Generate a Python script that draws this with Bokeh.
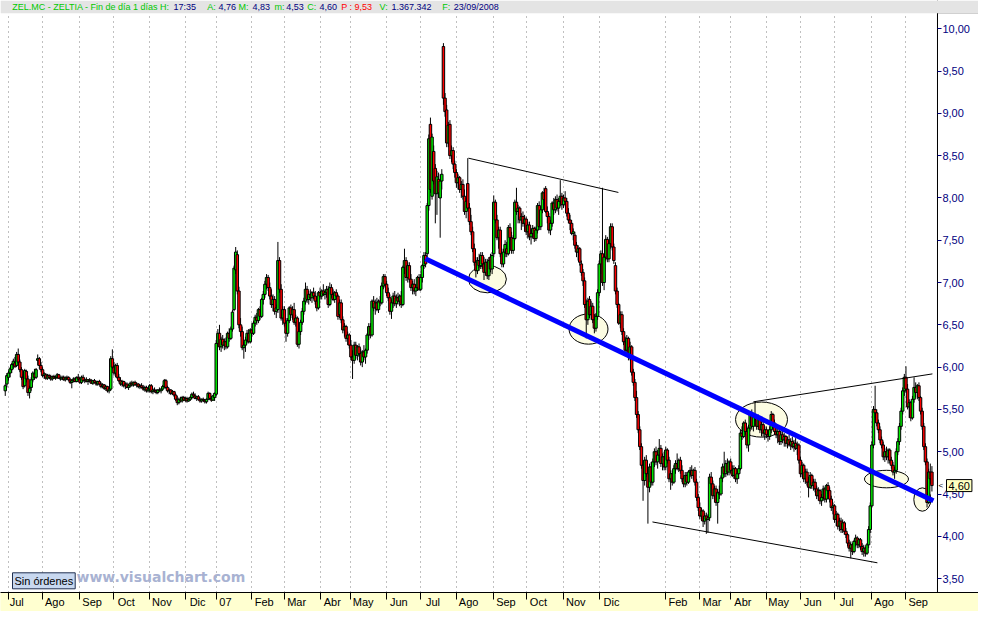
import pandas as pd
from bokeh.plotting import figure
from bokeh.models import (Range1d, LinearAxis, FixedTicker, Grid, Label, ColumnDataSource,
                          BoxAnnotation)
from bokeh.embed import file_html
from bokeh.resources import INLINE

# ---------------- data: daily candles (open, high, low, close) per month ----------------
jun06 = [(5.72,5.80,5.66,5.78),(5.80,5.93,5.76,5.90)]
jul06 = [(5.88,5.96,5.84,5.93),(5.93,6.00,5.88,5.98),(5.97,6.05,5.93,6.03),(6.03,6.10,5.98,6.07),
         (6.05,6.12,5.99,6.01),(6.02,6.18,6.00,6.15),(6.15,6.22,6.02,6.06),(6.06,6.09,5.94,5.97),
         (5.97,6.00,5.85,5.88),(5.88,5.92,5.74,5.77),(5.78,5.98,5.76,5.96),(5.95,5.97,5.82,5.86),
         (5.86,5.90,5.66,5.70),(5.70,5.78,5.63,5.75),(5.76,5.88,5.72,5.85),(5.85,5.95,5.82,5.93),
         (5.92,5.98,5.85,5.88),(5.88,5.99,5.86,5.97),(6.08,6.15,6.02,6.10),(6.10,6.12,5.98,6.02),
         (6.02,6.06,5.94,5.97)]
aug06 = [(5.97,6.00,5.88,5.90),(5.90,5.94,5.86,5.92),(5.91,5.93,5.85,5.87),(5.87,5.92,5.85,5.90),
         (5.90,5.92,5.86,5.88),(5.88,5.91,5.84,5.86),(5.86,5.90,5.84,5.89),(5.89,5.91,5.86,5.87),
         (5.87,5.90,5.85,5.88),(5.88,5.93,5.86,5.91),(5.91,5.92,5.86,5.87),(5.87,5.89,5.84,5.86),
         (5.86,5.90,5.85,5.88),(5.88,5.90,5.84,5.85),(5.85,5.89,5.83,5.87),(5.87,5.90,5.85,5.88),
         (5.88,5.89,5.84,5.85),(5.85,5.87,5.80,5.82),(5.82,5.86,5.75,5.84),(5.84,5.88,5.82,5.86),
         (5.86,5.88,5.82,5.83),(5.83,5.89,5.82,5.88),(5.88,5.92,5.85,5.86)]
sep06 = [(5.86,5.88,5.80,5.82),(5.82,5.90,5.80,5.88),(5.88,5.91,5.83,5.84),(5.84,5.87,5.81,5.85),
         (5.85,5.88,5.82,5.83),(5.83,5.86,5.79,5.85),(5.85,5.87,5.82,5.84),(5.84,5.86,5.80,5.81),
         (5.81,5.85,5.79,5.84),(5.84,5.86,5.81,5.82),(5.82,5.84,5.78,5.80),(5.80,5.84,5.78,5.83),
         (5.83,5.85,5.79,5.80),(5.80,5.82,5.75,5.77),(5.77,5.81,5.75,5.79),(5.79,5.80,5.73,5.75),
         (5.75,5.79,5.72,5.77),(5.77,5.78,5.70,5.72),(5.72,5.76,5.69,5.74),(5.74,6.13,5.72,6.10),
         (6.10,6.21,5.98,6.00)]
oct06 = [(6.00,6.06,5.90,5.93),(5.93,6.04,5.88,6.02),(6.02,6.05,5.86,5.88),(5.88,5.92,5.82,5.84),
         (5.84,5.88,5.78,5.80),(5.80,5.85,5.77,5.83),(5.83,5.84,5.76,5.78),(5.78,5.82,5.74,5.80),
         (5.80,5.82,5.75,5.76),(5.76,5.80,5.73,5.78),(5.78,5.83,5.76,5.81),(5.81,5.84,5.77,5.79),
         (5.79,5.83,5.77,5.82),(5.82,5.84,5.78,5.79),(5.79,5.82,5.76,5.80),(5.80,5.81,5.75,5.77),
         (5.77,5.80,5.74,5.78),(5.78,5.81,5.75,5.76),(5.76,5.79,5.72,5.74),(5.74,5.78,5.71,5.76),
         (5.76,5.78,5.70,5.72),(5.72,5.76,5.70,5.74)]
nov06 = [(5.74,5.80,5.70,5.78),(5.78,5.80,5.69,5.71),(5.71,5.75,5.68,5.73),(5.73,5.76,5.70,5.72),
         (5.72,5.74,5.68,5.70),(5.70,5.74,5.68,5.73),(5.73,5.76,5.71,5.72),(5.72,5.75,5.69,5.74),
         (5.74,5.79,5.72,5.77),(5.77,5.86,5.75,5.84),(5.84,5.86,5.74,5.76),(5.76,5.78,5.70,5.72),
         (5.72,5.75,5.68,5.73),(5.73,5.74,5.67,5.69),(5.69,5.73,5.67,5.71),(5.71,5.72,5.65,5.67),
         (5.67,5.69,5.60,5.62),(5.62,5.66,5.55,5.58),(5.58,5.64,5.56,5.62),(5.62,5.65,5.59,5.60),
         (5.60,5.66,5.58,5.64),(5.64,5.66,5.60,5.61)]
dec06 = [(5.61,5.65,5.59,5.63),(5.63,5.65,5.58,5.60),(5.60,5.64,5.59,5.62),(5.62,5.66,5.60,5.64),
         (5.64,5.70,5.62,5.68),(5.68,5.71,5.64,5.66),(5.66,5.69,5.62,5.63),(5.63,5.66,5.60,5.65),
         (5.65,5.67,5.61,5.62),(5.62,5.64,5.58,5.60),(5.60,5.63,5.58,5.62),(5.62,5.64,5.59,5.61),
         (5.61,5.62,5.57,5.59),(5.59,5.63,5.57,5.62),(5.62,5.71,5.61,5.69),(5.69,5.70,5.61,5.63),
         (5.63,5.66,5.59,5.61),(5.61,5.67,5.60,5.66),(5.64,5.70,5.60,5.69)]
jan07 = [(5.68,6.32,5.66,6.28),(6.28,6.45,6.24,6.40),(6.40,6.50,6.20,6.24),(6.24,6.36,6.18,6.33),
         (6.33,6.38,6.22,6.26),(6.26,6.34,6.20,6.30),(6.30,6.35,6.21,6.24),(6.24,6.42,6.22,6.40),
         (6.40,6.46,6.30,6.34),(6.34,6.48,6.32,6.45),(6.45,6.68,6.42,6.65),(6.68,7.20,6.66,7.17),
         (7.15,7.42,7.10,7.36),(7.33,7.38,6.86,6.90),(6.90,6.95,6.46,6.50),(6.50,6.58,6.36,6.42),
         (6.42,6.48,6.20,6.23),(6.23,6.30,6.10,6.26),(6.26,6.36,6.18,6.32),(6.32,6.44,6.28,6.40),
         (6.40,6.45,6.28,6.30),(6.30,6.46,6.28,6.44)]
feb07 = [(6.44,6.52,6.36,6.40),(6.40,6.55,6.38,6.52),(6.52,6.62,6.48,6.59),(6.59,6.64,6.50,6.55),
         (6.55,6.70,6.52,6.68),(6.68,6.72,6.56,6.60),(6.60,6.82,6.58,6.80),(6.80,6.90,6.74,6.86),
         (6.86,7.02,6.82,6.98),(6.98,7.10,6.92,7.06),(7.06,7.09,6.90,6.94),(6.94,7.00,6.80,6.84),
         (6.84,6.92,6.70,6.74),(6.74,6.86,6.66,6.80),(6.80,6.84,6.62,6.66),(6.66,6.74,6.58,6.70),
         (6.68,7.48,6.64,7.26),(7.26,7.30,6.88,6.92),(6.92,6.98,6.55,6.58),(6.58,6.72,6.50,6.68)]
mar07 = [(6.68,6.72,6.48,6.52),(6.52,6.58,6.30,6.40),(6.40,6.58,6.36,6.55),(6.55,6.72,6.52,6.70),
         (6.70,6.74,6.58,6.62),(6.62,6.72,6.56,6.68),(6.68,6.76,6.50,6.53),(6.53,6.62,6.48,6.58),
         (6.58,6.60,6.24,6.27),(6.27,6.46,6.22,6.42),(6.42,6.56,6.38,6.53),(6.53,6.70,6.50,6.66),
         (6.66,6.82,6.62,6.78),(6.78,7.00,6.74,6.92),(6.92,6.96,6.76,6.80),(6.80,6.90,6.74,6.86),
         (6.86,6.92,6.78,6.82),(6.82,6.90,6.76,6.88),(6.88,6.94,6.80,6.84),(6.84,6.90,6.74,6.78),
         (6.78,6.84,6.66,6.70),(6.70,6.90,6.68,6.88)]
apr07 = [(6.88,6.94,6.80,6.84),(6.84,6.92,6.80,6.90),(6.90,6.98,6.84,6.86),(6.86,6.92,6.80,6.88),
         (6.88,6.96,6.82,6.92),(6.92,6.96,6.70,6.74),(6.74,7.00,6.72,6.94),(6.94,6.98,6.82,6.86),
         (6.86,6.92,6.78,6.80),(6.80,6.90,6.76,6.88),(6.88,6.92,6.80,6.84),(6.84,6.86,6.56,6.60),
         (6.62,6.80,6.58,6.76),(6.76,6.80,6.52,6.56),(6.56,6.60,6.40,6.44),(6.44,6.52,6.36,6.48),
         (6.48,6.50,6.30,6.34),(6.34,6.42,6.26,6.38),(6.38,6.40,6.22,6.26)]
may07 = [(6.26,6.32,6.08,6.12),(6.12,6.20,5.86,6.08),(6.08,6.30,6.04,6.26),(6.26,6.30,6.10,6.14),
         (6.14,6.26,6.08,6.24),(6.24,6.28,6.12,6.16),(6.16,6.22,6.02,6.06),(6.06,6.20,6.00,6.18),
         (6.18,6.26,6.08,6.12),(6.12,6.22,6.04,6.20),(6.20,6.40,6.16,6.38),(6.38,6.52,6.32,6.48),
         (6.48,6.52,6.34,6.38),(6.38,6.80,6.36,6.78),(6.78,6.84,6.66,6.70),(6.70,6.80,6.62,6.76),
         (6.76,6.82,6.66,6.68),(6.68,6.80,6.64,6.78),(6.78,6.84,6.72,6.76),(6.76,7.00,6.74,6.96),
         (6.96,7.10,6.92,7.07),(7.07,7.10,6.94,6.98)]
jun07 = [(6.98,7.02,6.84,6.88),(6.88,6.94,6.78,6.82),(6.82,6.86,6.62,6.66),(6.66,6.80,6.57,6.76),
         (6.76,6.88,6.70,6.84),(6.84,6.90,6.72,6.75),(6.75,6.86,6.70,6.82),(6.82,6.88,6.74,6.78),
         (6.78,6.86,6.72,6.84),(6.84,6.90,6.70,6.74),(6.74,7.20,6.72,7.18),(7.18,7.40,7.10,7.26),
         (7.26,7.30,7.02,7.06),(7.06,7.24,7.00,7.20),(7.20,7.24,7.00,7.04),(7.04,7.10,6.90,6.94),
         (6.94,7.02,6.86,6.98),(6.98,7.04,6.86,6.90),(6.90,6.98,6.84,6.94),(6.94,7.08,6.90,7.06),
         (7.06,7.10,6.90,6.92)]
jul07 = [(6.92,7.10,6.90,7.06),(7.06,7.22,7.00,7.20),(7.20,7.36,7.16,7.32),(7.32,7.36,7.18,7.22),
         (7.34,7.94,7.30,7.91),(7.91,8.75,7.85,8.70),(8.87,8.95,8.06,8.10),(8.02,8.76,7.98,8.72),
         (8.55,8.62,8.16,8.20),(8.35,8.40,7.70,8.05),(8.05,8.32,7.80,8.25),(8.22,8.30,8.00,8.06),
         (8.00,8.28,7.53,8.20),(8.20,8.34,8.10,8.28),(9.79,9.83,9.10,9.18),(9.18,9.24,8.96,9.02),
         (9.04,9.10,8.60,8.65),(8.65,8.90,8.60,8.86),(8.87,8.92,8.46,8.50),(8.50,8.62,8.42,8.56),
         (8.56,8.60,8.34,8.40),(8.40,8.44,8.24,8.30)]
aug07 = [(8.30,8.34,8.12,8.18),(8.18,8.28,8.10,8.24),(8.24,8.26,8.06,8.10),(8.10,8.20,8.00,8.16),
         (8.16,8.22,7.98,8.02),(8.02,8.10,7.80,7.84),(7.84,8.00,7.76,7.96),(8.17,8.47,7.86,7.88),
         (7.88,7.94,7.68,7.72),(7.72,7.80,7.56,7.60),(7.60,7.66,7.36,7.40),(7.40,7.46,7.20,7.24),
         (7.24,7.30,7.06,7.14),(7.14,7.30,7.10,7.26),(7.26,7.34,7.14,7.20),(7.20,7.36,7.16,7.32),
         (7.32,7.36,7.16,7.22),(7.22,7.30,7.03,7.12),(7.12,7.28,7.08,7.24),(7.24,7.28,7.04,7.08),
         (7.08,7.30,7.03,7.26),(7.30,7.34,7.12,7.16),(7.16,7.36,7.10,7.32)]
sep07 = [(7.34,8.03,7.30,7.95),(7.95,7.98,7.70,7.74),(7.74,7.80,7.50,7.53),(7.53,7.66,7.40,7.62),
         (7.62,7.66,7.30,7.34),(7.34,7.40,7.18,7.22),(7.22,7.40,7.18,7.36),(7.36,7.50,7.30,7.45),
         (7.40,7.48,7.30,7.34),(7.34,7.68,7.32,7.65),(7.65,7.70,7.50,7.53),(7.53,7.60,7.34,7.38),
         (7.38,7.56,7.34,7.52),(7.52,7.98,7.50,7.95),(7.95,8.12,7.80,7.84),(7.84,7.92,7.70,7.88),
         (7.88,7.90,7.70,7.74),(7.74,7.82,7.62,7.78),(7.78,7.84,7.66,7.70),(7.70,7.80,7.60,7.75)]
oct07 = [(7.75,7.78,7.56,7.60),(7.60,7.72,7.52,7.68),(7.68,7.72,7.50,7.54),(7.54,7.62,7.45,7.58),
         (7.58,7.68,7.52,7.64),(7.64,7.66,7.48,7.52),(7.52,7.66,7.49,7.62),(7.62,7.94,7.58,7.91),
         (7.91,7.96,7.62,7.66),(7.66,7.90,7.62,7.86),(7.86,8.08,7.82,8.06),(8.06,8.12,7.92,7.98),
         (8.11,8.14,7.82,7.84),(7.84,7.90,7.70,7.78),(7.78,7.82,7.58,7.62),(7.62,7.74,7.56,7.70),
         (7.70,7.96,7.66,7.94),(7.94,8.00,7.80,7.86),(7.86,8.02,7.82,7.98),(7.98,8.04,7.84,7.88),
         (7.88,8.00,7.80,7.96),(7.96,8.21,7.90,8.02),(8.02,8.06,7.86,7.92)]
nov07 = [(7.92,8.04,7.88,8.00),(8.00,8.08,7.90,7.96),(7.96,8.00,7.78,7.82),(7.82,7.88,7.70,7.74),
         (7.74,7.80,7.62,7.70),(7.70,7.74,7.56,7.58),(7.58,7.64,7.50,7.60),(7.56,7.60,7.40,7.44),
         (7.44,7.48,7.30,7.36),(7.36,7.44,7.26,7.40),(7.40,7.42,7.20,7.24),(7.22,7.26,7.08,7.12),
         (7.12,7.16,6.96,7.02),(7.02,7.06,6.70,6.74),(6.74,6.80,6.34,6.56),(6.56,6.82,6.50,6.78),
         (6.80,6.84,6.58,6.62),(6.62,6.78,6.56,6.72),(6.72,6.76,6.52,6.56),(6.56,6.62,6.40,6.46),
         (6.46,6.64,6.42,6.60),(6.60,6.92,6.56,6.88)]
dec07 = [(6.88,7.26,6.84,7.22),(7.22,7.38,7.10,7.34),(7.34,8.12,6.96,7.00),(7.00,7.34,6.91,7.30),
         (7.30,7.56,7.26,7.51),(7.51,7.54,7.24,7.28),(7.28,7.50,7.24,7.46),(7.46,7.70,7.40,7.66),
         (7.66,7.70,7.38,7.42),(7.42,7.46,7.22,7.26),(7.20,7.24,6.86,6.90),(6.90,6.94,6.70,6.74),
         (6.74,6.76,6.50,6.52),(6.52,6.66,6.46,6.62),(6.62,6.66,6.38,6.42),(6.42,6.46,6.26,6.30),
         (6.30,6.36,6.16,6.20),(6.20,6.38,6.14,6.34),(6.34,6.36,6.08,6.12)]
jan08 = [(6.12,6.30,6.08,6.24),(6.24,6.26,5.90,5.94),(5.94,5.98,5.78,5.82),(5.82,5.86,5.60,5.64),
         (5.64,5.72,5.40,5.44),(5.44,5.48,5.22,5.26),(5.26,5.30,5.02,5.06),(5.06,5.10,4.80,4.84),
         (4.84,4.90,4.42,4.66),(4.66,4.94,4.60,4.90),(4.90,4.96,4.70,4.74),(4.74,4.80,4.15,4.58),
         (4.58,4.86,4.52,4.82),(4.82,4.88,4.60,4.64),(4.64,4.92,4.60,4.88),(4.88,5.04,4.82,5.00),
         (5.00,5.06,4.84,4.88),(4.88,5.02,4.80,4.96),(4.96,5.15,4.90,5.04),(5.04,5.08,4.82,4.86),
         (4.86,4.98,4.78,4.94),(4.94,5.00,4.78,4.82)]
feb08 = [(4.82,5.06,4.78,5.02),(5.02,5.04,4.86,4.90),(4.90,4.94,4.64,4.68),(4.68,4.78,4.55,4.74),
         (4.74,4.78,4.60,4.64),(4.64,4.84,4.62,4.80),(4.80,4.90,4.74,4.86),(4.86,4.98,4.78,4.80),
         (4.80,4.92,4.76,4.90),(4.90,4.94,4.74,4.78),(4.78,4.84,4.64,4.68),(4.68,4.72,4.58,4.62),
         (4.62,4.76,4.58,4.72),(4.72,4.76,4.60,4.64),(4.64,4.78,4.62,4.76),(4.76,4.82,4.70,4.78),
         (4.78,4.84,4.68,4.72),(4.72,4.80,4.66,4.78),(4.78,4.82,4.60,4.64),(4.64,4.68,4.42,4.46),
         (4.46,4.50,4.30,4.34)]
mar08 = [(4.34,4.40,4.20,4.24),(4.24,4.34,4.18,4.30),(4.30,4.32,4.11,4.18),(4.18,4.28,4.14,4.24),
         (4.24,4.28,4.03,4.20),(4.20,4.26,4.04,4.22),(4.22,4.74,4.18,4.70),(4.70,4.76,4.56,4.62),
         (4.62,4.66,4.44,4.48),(4.48,4.60,4.40,4.56),(4.56,4.60,4.36,4.40),(4.40,4.56,4.15,4.52),
         (4.52,4.60,4.44,4.50),(4.50,4.72,4.48,4.69),(4.69,4.86,4.64,4.82),(4.82,5.00,4.70,4.74),
         (4.74,4.90,4.70,4.86),(4.86,4.92,4.72,4.76),(4.76,4.90,4.72,4.88)]
apr08 = [(4.88,4.92,4.74,4.78),(4.78,4.84,4.70,4.72),(4.72,4.84,4.68,4.80),(4.80,4.82,4.64,4.68),
         (4.68,4.78,4.62,4.74),(4.74,4.84,4.68,4.80),(4.80,5.26,4.78,5.22),(5.22,5.30,5.14,5.18),
         (5.18,5.36,5.16,5.34),(5.34,5.38,5.20,5.24),(5.24,5.30,5.04,5.08),(5.08,5.32,5.00,5.28),
         (5.28,5.48,5.24,5.44),(5.44,5.50,5.26,5.30),(5.30,5.46,5.24,5.42),(5.42,5.58,5.36,5.40),
         (5.40,5.44,5.26,5.30),(5.30,5.44,5.26,5.38),(5.38,5.42,5.22,5.26),(5.26,5.36,5.18,5.32),
         (5.32,5.36,5.18,5.22),(5.22,5.30,5.14,5.26)]
may08 = [(5.26,5.30,5.16,5.20),(5.20,5.26,5.12,5.18),(5.18,5.30,5.14,5.26),(5.26,5.48,5.22,5.44),
         (5.44,5.46,5.30,5.34),(5.34,5.38,5.20,5.24),(5.24,5.30,5.16,5.20),(5.20,5.28,5.10,5.24),
         (5.24,5.26,5.08,5.12),(5.12,5.24,5.08,5.20),(5.20,5.26,5.10,5.14),(5.14,5.22,5.06,5.18),
         (5.18,5.20,5.06,5.10),(5.10,5.18,5.04,5.14),(5.14,5.20,5.06,5.08),(5.08,5.16,5.02,5.12),
         (5.12,5.18,5.04,5.06),(5.06,5.14,5.00,5.10),(5.10,5.16,5.02,5.04),(5.04,5.12,4.96,5.08),
         (5.08,5.10,4.86,4.90)]
jun08 = [(4.90,4.94,4.70,4.74),(4.74,4.88,4.70,4.84),(4.84,4.86,4.64,4.68),(4.68,4.80,4.62,4.76),
         (4.76,4.80,4.60,4.64),(4.64,4.70,4.46,4.58),(4.58,4.76,4.56,4.72),(4.72,4.74,4.56,4.60),
         (4.60,4.68,4.54,4.64),(4.64,4.68,4.52,4.56),(4.56,4.60,4.44,4.48),(4.48,4.58,4.42,4.54),
         (4.54,4.56,4.38,4.42),(4.42,4.50,4.36,4.46),(4.46,4.60,4.42,4.56),(4.56,4.58,4.40,4.44),
         (4.44,4.62,4.40,4.60),(4.60,4.64,4.50,4.54),(4.54,4.58,4.40,4.44),(4.44,4.48,4.30,4.34),
         (4.34,4.40,4.26,4.36)]
jul08 = [(4.36,4.38,4.16,4.20),(4.20,4.30,4.12,4.26),(4.26,4.28,4.08,4.12),(4.12,4.22,4.06,4.18),
         (4.18,4.22,4.04,4.08),(4.08,4.20,4.04,4.16),(4.16,4.18,4.02,4.06),(4.06,4.10,3.98,4.02),
         (4.02,4.04,3.88,3.92),(3.92,3.96,3.82,3.86),(3.86,3.94,3.74,3.90),(3.90,3.92,3.78,3.82),
         (3.82,3.96,3.80,3.94),(3.94,4.02,3.88,3.98),(3.98,4.00,3.86,3.90),(3.90,3.98,3.86,3.96),
         (3.96,3.98,3.84,3.88),(3.88,3.92,3.78,3.82),(3.82,3.90,3.76,3.86),(3.86,3.88,3.76,3.80),
         (3.80,3.92,3.78,3.90),(3.90,4.12,3.86,4.08),(4.08,4.40,4.04,4.36)]
aug08 = [(4.36,5.12,4.34,5.08),(5.08,5.54,5.04,5.50),(5.50,5.78,5.40,5.46),(5.46,5.50,5.30,5.34),
         (5.34,5.38,5.22,5.26),(5.26,5.30,5.10,5.14),(5.14,5.18,5.04,5.08),(5.08,5.12,4.90,4.94),
         (4.94,5.04,4.88,5.00),(5.00,5.06,4.90,4.94),(4.94,5.04,4.86,5.02),(5.02,5.04,4.86,4.90),
         (4.90,4.94,4.80,4.84),(4.84,4.88,4.72,4.76),(4.76,4.82,4.68,4.78),(4.78,5.04,4.74,5.00),
         (5.00,5.16,4.96,5.12),(5.12,5.34,5.08,5.30),(5.30,5.52,5.26,5.48),(5.48,5.76,5.44,5.72),
         (5.72,5.92,5.66,5.88)]
sep08 = [(5.88,6.01,5.70,5.74),(5.74,5.80,5.50,5.53),(5.53,5.62,5.40,5.58),(5.58,5.60,5.36,5.40),
         (5.40,5.66,5.38,5.62),(5.62,5.88,5.58,5.76),(5.76,5.82,5.64,5.70),(5.70,5.80,5.62,5.78),
         (5.78,5.82,5.60,5.64),(5.64,5.66,5.44,5.48),(5.48,5.52,5.26,5.30),(5.30,5.34,5.02,5.06),
         (5.06,5.10,4.84,4.88),(4.88,4.92,4.34,4.40),(4.40,4.80,4.38,4.76),(4.76,4.86,4.62,4.68),
         (4.76,4.83,4.53,4.60)]

months_data = [jun06, jul06, aug06, sep06, oct06, nov06, dec06,
               jan07, feb07, mar07, apr07, may07, jun07, jul07, aug07, sep07, oct07, nov07, dec07,
               jan08, feb08, mar08, apr08, may08, jun08, jul08, aug08, sep08]

market_holidays = ["2006-12-25", "2006-12-26", "2007-01-01", "2007-04-06", "2007-04-09", "2007-05-01",
                   "2007-12-25", "2007-12-26", "2008-01-01", "2008-03-21", "2008-03-24", "2008-05-01"]

# month ticks (Jan 2008 has no label on the original)
tick_months = ["2006-07", "2006-08", "2006-09", "2006-10", "2006-11", "2006-12", "2007-01", "2007-02",
               "2007-03", "2007-04", "2007-05", "2007-06", "2007-07", "2007-08", "2007-09", "2007-10",
               "2007-11", "2007-12", "2008-02", "2008-03", "2008-04", "2008-05", "2008-06", "2008-07",
               "2008-08", "2008-09"]
tick_labels = ["Jul", "Ago", "Sep", "Oct", "Nov", "Dic", "07", "Feb", "Mar", "Abr", "May", "Jun", "Jul",
               "Ago", "Sep", "Oct", "Nov", "Dic", "Feb", "Mar", "Abr", "May", "Jun", "Jul", "Ago", "Sep"]

price_ticks = [3.5, 4.0, 4.5, 5.0, 5.5, 6.0, 6.5, 7.0, 7.5, 8.0, 8.5, 9.0, 9.5, 10.0]
price_tick_labels = ["3,50", "4,00", "4,50", "5,00", "5,50", "6,00", "6,50", "7,00", "7,50", "8,00",
                     "8,50", "9,00", "9,50", "10,00"]

# hand-drawn analysis: trend lines (trading-day index, price)
blue_trend_x = [258.9, 571.9]
blue_trend_y = [7.28, 4.42]
upper_trend1_x = [285.4, 377.8]
upper_trend1_y = [8.47, 8.065]
lower_trend_x = [398.8, 537.4]
lower_trend_y = [4.17, 3.687]
upper_trend2_x = [461.0, 571.3]
upper_trend2_y = [5.59, 5.92]
# ellipses: centre (index, price) and size (days, price)
ell_x = [297.1, 359.4, 466.0, 543.0, 565.1]
ell_y = [7.04, 6.45, 5.38, 4.677, 4.435]
ell_w = [23.4, 24.0, 32.0, 27.1, 10.5]
ell_h = [0.323, 0.357, 0.415, 0.207, 0.276]

last_close = 4.60

# ---------------- build ----------------
dates = pd.bdate_range("2006-06-29", "2008-09-23", freq="C", holidays=market_holidays)
candles = [c for m in months_data for c in m]
n = min(len(dates), len(candles))
dates = dates[:n]
candles = candles[:n]
idx = list(range(n))
opens = [c[0] for c in candles]
highs = [c[1] for c in candles]
lows = [c[2] for c in candles]
closes = [c[3] for c in candles]
UP, DOWN = "#00F000", "#FF0000"
colors = [UP if c >= o else DOWN for o, c in zip(opens, closes)]
src = ColumnDataSource(dict(x=idx, h=highs, l=lows,
                            top=[max(o, c) for o, c in zip(opens, closes)],
                            bottom=[min(o, c) for o, c in zip(opens, closes)],
                            color=colors))

NBSP = "\u00a0"
ym = [d.strftime("%Y-%m") for d in dates]
month_idx = []
month_lab = {}
for k, (key, lab) in enumerate(zip(tick_months, tick_labels)):
    if key in ym:
        i = ym.index(key)
        month_idx.append(i)
        # centred labels padded on the left so that the text sits just right of its tick
        pad = 3 if k == 0 else 2 * len(lab) + 2
        month_lab[i] = NBSP * pad + lab

# ---------------- layout constants ----------------
W, H = 978, 611
BOTTOM = 19
FRAME_H = H - BOTTOM                 # frame covers the whole width and everything above the date band
X0, X1 = -2.927, 599.7               # trading-day index at the frame edges
AXIS_X = 574.4                       # index where the price scale sits (panel edge)
Y0, Y1 = 3.336, 10.334               # price at the frame edges
HEADER_BOTTOM = 10.184               # price at the lower edge of the header strip

p = figure(width=W, height=H, output_backend="svg", toolbar_location=None, title=None,
           x_range=Range1d(X0, X1), y_range=Range1d(Y0, Y1),
           x_axis_location=None, y_axis_location=None,
           min_border_left=0, min_border_right=0, min_border_top=0, min_border_bottom=BOTTOM)
p.border_fill_color = "#FFFFD0"
p.background_fill_color = "white"
p.outline_line_color = None
p.center = [r for r in p.center if not isinstance(r, Grid)]

# right price panel (white box with black frame), drawn beneath everything
p.add_layout(BoxAnnotation(left=AXIS_X, top=HEADER_BOTTOM, fill_color="white", fill_alpha=1,
                           line_color="black", line_width=1, level="underlay"))

grid = Grid(dimension=0, ticker=FixedTicker(ticks=month_idx), grid_line_color="#808080",
            grid_line_dash="1 4", grid_line_width=1, minor_grid_line_color=None)
p.add_layout(grid)

yax = LinearAxis(ticker=FixedTicker(ticks=price_ticks), fixed_location=AXIS_X,
                 major_label_overrides={(int(t) if t == int(t) else t): s
                                        for t, s in zip(price_ticks, price_tick_labels)})
yax.major_label_text_color = "#000080"
yax.major_label_text_font = "Liberation Sans"
yax.major_label_text_font_size = "11px"
yax.major_tick_out = 4
yax.major_tick_in = 0
yax.major_tick_line_color = "#000080"
yax.minor_tick_line_color = None
yax.axis_line_color = "black"
yax.major_label_standoff = 1
p.add_layout(yax, "right")

xax = LinearAxis(ticker=FixedTicker(ticks=month_idx), major_label_overrides=month_lab)
xax.major_label_text_color = "black"
xax.major_label_text_font = "Liberation Sans"
xax.major_label_text_font_size = "11px"
xax.major_tick_out = 7
xax.major_tick_in = 0
xax.major_tick_line_color = "black"
xax.minor_tick_line_color = None
xax.axis_line_color = "black"
xax.major_label_standoff = -4
xax.background_fill_color = "#FFFFD0"
p.add_layout(xax, "below")

# ellipses (behind the candles)
p.ellipse(x=ell_x, y=ell_y, width=ell_w, height=ell_h, fill_color="#FCFCE2",
          line_color="black", line_width=1)

# candles
p.segment(x0="x", y0="h", x1="x", y1="l", source=src, line_color="black", line_width=1)
p.vbar(x="x", width=1.5, top="top", bottom="bottom", fill_color="color",
       line_color="black", line_width=1, source=src)

# trend lines
for xs, ys in [(upper_trend1_x, upper_trend1_y), (lower_trend_x, lower_trend_y),
               (upper_trend2_x, upper_trend2_y)]:
    p.line(x=xs, y=ys, line_color="black", line_width=1)
p.line(x=blue_trend_x, y=blue_trend_y, line_color="#0000FF", line_width=5)

# header strip
p.add_layout(BoxAnnotation(bottom=HEADER_BOTTOM, fill_color="#E4E4E4", fill_alpha=1, line_color=None))
HY = FRAME_H - 6.3
header = [(11.7, "ZEL.MC - ZELTIA - Fin de día 1 días  H:", "#00C800"),
          (173, "17:35", "#000080"), (206.7, "A:", "#00C800"), (218, "4,76", "#000080"),
          (238, "M:", "#00C800"), (252, "4,83", "#000080"), (274, "m:", "#00C800"),
          (285.7, "4,53", "#000080"), (306.7, "C:", "#00C800"), (319, "4,60", "#000080"),
          (340.7, "P : 9,53", "#FF0000"), (379, "V:", "#00C800"), (391, "1.367.342", "#000080"),
          (441.7, "F:", "#00C800"), (453.3, "23/09/2008", "#000080")]
for hx, txt, col in header:
    p.add_layout(Label(x=hx, y=HY, x_units="screen", y_units="screen", text=txt,
                       text_color=col, text_font="Liberation Sans", text_font_size="9px",
                       text_baseline="middle", text_align="left"))

# bottom-left boxes
p.add_layout(Label(x=12, y=11.7, x_units="screen", y_units="screen", text="Sin órdenes",
                   text_font="Liberation Sans", text_font_size="11px", text_color="black",
                   text_baseline="middle", text_align="left", background_fill_color="#C8D8F0",
                   border_line_color="#203050", padding=2))
p.add_layout(Label(x=76, y=15.6, x_units="screen", y_units="screen", text="www.visualchart.com",
                   text_font="DejaVu Sans", text_font_style="bold", text_font_size="14px",
                   text_color="#A8B2D2", text_baseline="middle", text_align="left"))

# last price tag
p.add_layout(Label(x=938, y=last_close, x_units="screen", y_units="data", text="<",
                   text_font="Liberation Sans", text_font_size="8px", text_color="black",
                   text_baseline="middle", text_align="left"))
p.add_layout(Label(x=946, y=last_close, x_units="screen", y_units="data", text="4,60",
                   text_font="Liberation Sans", text_font_size="11px", text_color="black",
                   text_baseline="middle", text_align="left", background_fill_color="#FFFFC0",
                   border_line_color="black", padding=2))

open("out.html", "w").write(file_html(p, INLINE))
